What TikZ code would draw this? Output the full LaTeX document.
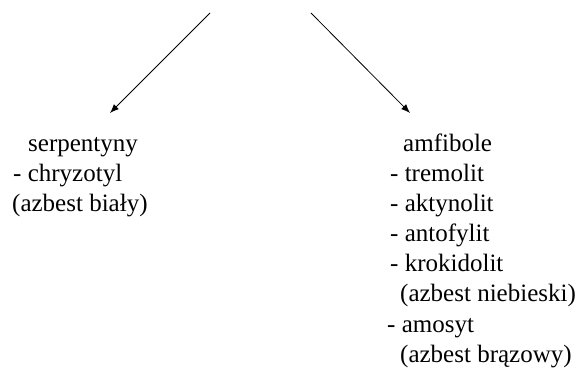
\documentclass[tikz,border=0pt]{standalone}
\usepackage{fontspec}
\setmainfont{Liberation Serif}
\usetikzlibrary{arrows.meta}
\begin{document}
\begin{tikzpicture}[x=1pt,y=-1pt,font=\fontsize{25}{30}\selectfont,
  arr/.style={-{Latex[length=9pt,width=7pt]},line width=.8pt},
  item/.style={anchor=base west,inner sep=0pt}]
\useasboundingbox (0,0) rectangle (581,371);
\coordinate (stop) at (210,13);
\coordinate (stip) at (110,113);
\coordinate (atop) at (311,13);
\coordinate (atip) at (410,113);
\draw[arr] (stop)--(stip);
\draw[arr] (atop)--(atip);
\foreach \j/\tx/\ty/\txt in {0/28/152/serpentyny,1/13/182/- chryzotyl,2/12/212/{(azbest biały)}}{
 \node[item] (s\j) at (\tx,\ty) {\txt};
}
\foreach \j/\tx/\ty/\txt in {0/403/152/amfibole,1/390/182/- tremolit,2/390/212/- aktynolit,3/390/242/- antofylit,4/390/272/- krokidolit,5/400/302/{(azbest niebieski)},6/387/332/- amosyt,7/400/362/{(azbest brązowy)}}{
 \node[item] (a\j) at (\tx,\ty) {\txt};
}
\end{tikzpicture}
\end{document}
